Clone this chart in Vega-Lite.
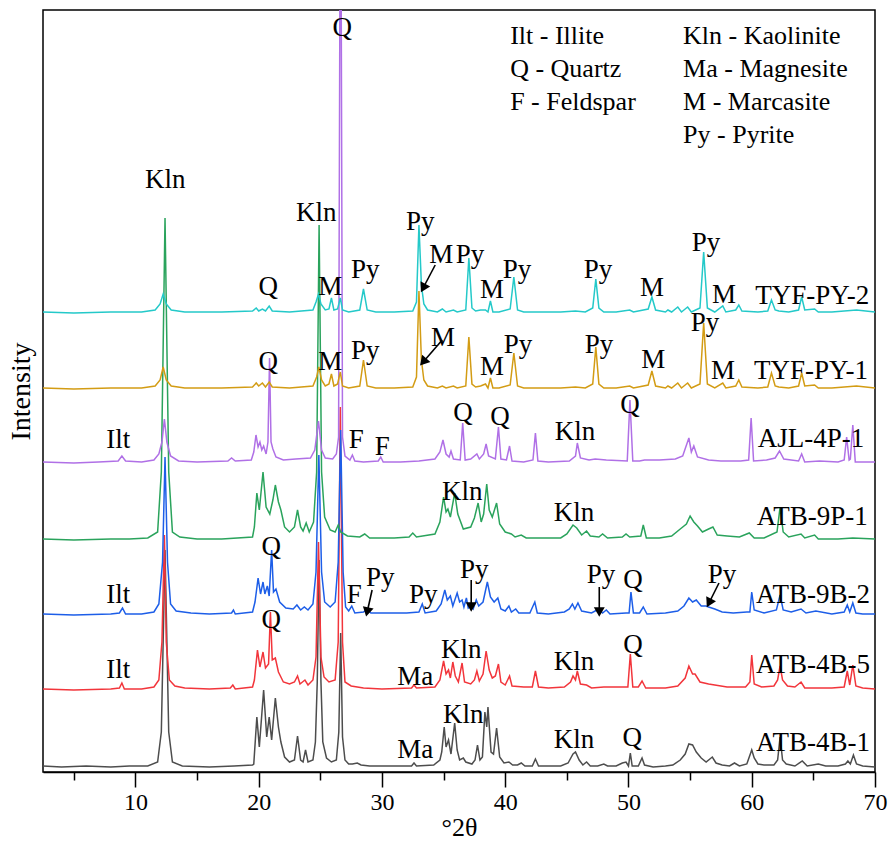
{
"$schema": "https://vega.github.io/schema/vega-lite/v6.json",
"width": 832, "height": 762,
"autosize": {"type": "none"},
"padding": {"left": 43, "top": 10, "right": 13, "bottom": 71},
"config": {"view": {"stroke": "#000", "strokeWidth": 1.5}, "font": "'Liberation Serif', 'Times New Roman', serif"},
"datasets": {
"xrd": [
{"s":"ATB-4B-1","x":2.5,"y":6},{"s":"ATB-4B-1","x":4,"y":5},{"s":"ATB-4B-1","x":6,"y":6},{"s":"ATB-4B-1","x":8,"y":5},{"s":"ATB-4B-1","x":9.5,"y":6},{"s":"ATB-4B-1","x":11,"y":6},{"s":"ATB-4B-1","x":11.8,"y":10},{"s":"ATB-4B-1","x":12.1,"y":40},{"s":"ATB-4B-1","x":12.4,"y":222},{"s":"ATB-4B-1","x":12.7,"y":40},{"s":"ATB-4B-1","x":13.0,"y":10},{"s":"ATB-4B-1","x":13.8,"y":6},{"s":"ATB-4B-1","x":16,"y":5},{"s":"ATB-4B-1","x":18,"y":6},{"s":"ATB-4B-1","x":19.5,"y":7},
{"s":"ATB-4B-1","x":19.6,"y":8},{"s":"ATB-4B-1","x":19.85,"y":55},{"s":"ATB-4B-1","x":20.05,"y":25},{"s":"ATB-4B-1","x":20.4,"y":82},{"s":"ATB-4B-1","x":20.65,"y":35},{"s":"ATB-4B-1","x":20.85,"y":55},{"s":"ATB-4B-1","x":21.05,"y":32},{"s":"ATB-4B-1","x":21.35,"y":74},{"s":"ATB-4B-1","x":21.6,"y":45},{"s":"ATB-4B-1","x":21.8,"y":30},{"s":"ATB-4B-1","x":22.1,"y":15},{"s":"ATB-4B-1","x":22.5,"y":10},{"s":"ATB-4B-1","x":22.9,"y":12},{"s":"ATB-4B-1","x":23.15,"y":36},{"s":"ATB-4B-1","x":23.4,"y":12},{"s":"ATB-4B-1","x":23.6,"y":10},{"s":"ATB-4B-1","x":23.8,"y":22},{"s":"ATB-4B-1","x":24.0,"y":10},{"s":"ATB-4B-1","x":24.4,"y":12},{"s":"ATB-4B-1","x":24.6,"y":30},{"s":"ATB-4B-1","x":24.75,"y":90},{"s":"ATB-4B-1","x":24.9,"y":212},{"s":"ATB-4B-1","x":25.05,"y":90},{"s":"ATB-4B-1","x":25.2,"y":30},{"s":"ATB-4B-1","x":25.5,"y":14},{"s":"ATB-4B-1","x":25.9,"y":10},{"s":"ATB-4B-1","x":26.3,"y":12},{"s":"ATB-4B-1","x":26.5,"y":40},{"s":"ATB-4B-1","x":26.65,"y":139},{"s":"ATB-4B-1","x":26.8,"y":35},{"s":"ATB-4B-1","x":27.0,"y":12},{"s":"ATB-4B-1","x":27.3,"y":8},{"s":"ATB-4B-1","x":27.6,"y":8},{"s":"ATB-4B-1","x":28.0,"y":9},{"s":"ATB-4B-1","x":28.3,"y":7},{"s":"ATB-4B-1","x":29,"y":6},{"s":"ATB-4B-1","x":31,"y":6},{"s":"ATB-4B-1","x":32.4,"y":6},{"s":"ATB-4B-1","x":32.6,"y":9},{"s":"ATB-4B-1","x":32.8,"y":6},{"s":"ATB-4B-1","x":34.2,"y":7},{"s":"ATB-4B-1","x":34.7,"y":12},{"s":"ATB-4B-1","x":34.85,"y":20},{"s":"ATB-4B-1","x":35.05,"y":45},{"s":"ATB-4B-1","x":35.2,"y":25},{"s":"ATB-4B-1","x":35.4,"y":32},{"s":"ATB-4B-1","x":35.6,"y":18},{"s":"ATB-4B-1","x":35.9,"y":49},{"s":"ATB-4B-1","x":36.1,"y":22},{"s":"ATB-4B-1","x":36.3,"y":12},{"s":"ATB-4B-1","x":36.6,"y":14},{"s":"ATB-4B-1","x":36.8,"y":10},{"s":"ATB-4B-1","x":37.3,"y":8},{"s":"ATB-4B-1","x":37.55,"y":12},{"s":"ATB-4B-1","x":37.75,"y":27},{"s":"ATB-4B-1","x":37.95,"y":12},{"s":"ATB-4B-1","x":38.15,"y":15},{"s":"ATB-4B-1","x":38.35,"y":60},{"s":"ATB-4B-1","x":38.5,"y":45},{"s":"ATB-4B-1","x":38.6,"y":65},{"s":"ATB-4B-1","x":38.85,"y":20},{"s":"ATB-4B-1","x":39.05,"y":18},{"s":"ATB-4B-1","x":39.3,"y":44},{"s":"ATB-4B-1","x":39.55,"y":15},{"s":"ATB-4B-1","x":39.9,"y":9},{"s":"ATB-4B-1","x":40.3,"y":10},{"s":"ATB-4B-1","x":40.6,"y":7},{"s":"ATB-4B-1","x":41.0,"y":7},{"s":"ATB-4B-1","x":41.3,"y":9},{"s":"ATB-4B-1","x":41.6,"y":6},{"s":"ATB-4B-1","x":42.2,"y":6},{"s":"ATB-4B-1","x":42.45,"y":13},{"s":"ATB-4B-1","x":42.7,"y":6},{"s":"ATB-4B-1","x":43.5,"y":6},{"s":"ATB-4B-1","x":44.5,"y":6},{"s":"ATB-4B-1","x":45.1,"y":9},{"s":"ATB-4B-1","x":45.5,"y":18},{"s":"ATB-4B-1","x":45.7,"y":20},{"s":"ATB-4B-1","x":46.0,"y":12},{"s":"ATB-4B-1","x":46.3,"y":7},{"s":"ATB-4B-1","x":46.6,"y":10},{"s":"ATB-4B-1","x":46.9,"y":6},{"s":"ATB-4B-1","x":47.5,"y":6},{"s":"ATB-4B-1","x":48.0,"y":8},{"s":"ATB-4B-1","x":48.3,"y":6},{"s":"ATB-4B-1","x":49.0,"y":6},{"s":"ATB-4B-1","x":49.5,"y":9},{"s":"ATB-4B-1","x":49.8,"y":10},{"s":"ATB-4B-1","x":50.0,"y":6},{"s":"ATB-4B-1","x":50.15,"y":19},{"s":"ATB-4B-1","x":50.3,"y":6},{"s":"ATB-4B-1","x":50.8,"y":6},{"s":"ATB-4B-1","x":51.1,"y":14},{"s":"ATB-4B-1","x":51.3,"y":7},{"s":"ATB-4B-1","x":52,"y":5},{"s":"ATB-4B-1","x":53,"y":6},{"s":"ATB-4B-1","x":53.6,"y":7},{"s":"ATB-4B-1","x":54.2,"y":12},{"s":"ATB-4B-1","x":54.6,"y":18},{"s":"ATB-4B-1","x":54.9,"y":28},{"s":"ATB-4B-1","x":55.2,"y":27},{"s":"ATB-4B-1","x":55.5,"y":20},{"s":"ATB-4B-1","x":55.9,"y":14},{"s":"ATB-4B-1","x":56.3,"y":10},{"s":"ATB-4B-1","x":56.8,"y":15},{"s":"ATB-4B-1","x":57.1,"y":9},{"s":"ATB-4B-1","x":57.6,"y":7},{"s":"ATB-4B-1","x":58.2,"y":6},{"s":"ATB-4B-1","x":58.6,"y":9},{"s":"ATB-4B-1","x":59.0,"y":6},{"s":"ATB-4B-1","x":59.6,"y":8},{"s":"ATB-4B-1","x":60.0,"y":22},{"s":"ATB-4B-1","x":60.2,"y":14},{"s":"ATB-4B-1","x":60.5,"y":8},{"s":"ATB-4B-1","x":61,"y":7},{"s":"ATB-4B-1","x":61.8,"y":7},{"s":"ATB-4B-1","x":62.1,"y":12},{"s":"ATB-4B-1","x":62.3,"y":35},{"s":"ATB-4B-1","x":62.5,"y":12},{"s":"ATB-4B-1","x":62.8,"y":8},{"s":"ATB-4B-1","x":63.5,"y":6},{"s":"ATB-4B-1","x":64.1,"y":11},{"s":"ATB-4B-1","x":64.5,"y":6},{"s":"ATB-4B-1","x":65.4,"y":8},{"s":"ATB-4B-1","x":66,"y":6},{"s":"ATB-4B-1","x":67,"y":6},{"s":"ATB-4B-1","x":67.6,"y":8},{"s":"ATB-4B-1","x":67.8,"y":11},{"s":"ATB-4B-1","x":68.0,"y":8},{"s":"ATB-4B-1","x":68.25,"y":17},{"s":"ATB-4B-1","x":68.5,"y":8},{"s":"ATB-4B-1","x":69,"y":6},{"s":"ATB-4B-1","x":70,"y":5},

{"s":"ATB-4B-5","x":2.5,"y":83},{"s":"ATB-4B-5","x":5,"y":82},{"s":"ATB-4B-5","x":8,"y":83},{"s":"ATB-4B-5","x":8.7,"y":84},{"s":"ATB-4B-5","x":8.9,"y":89},{"s":"ATB-4B-5","x":9.1,"y":83},{"s":"ATB-4B-5","x":10.5,"y":83},{"s":"ATB-4B-5","x":11.5,"y":85},{"s":"ATB-4B-5","x":11.9,"y":92},{"s":"ATB-4B-5","x":12.15,"y":130},{"s":"ATB-4B-5","x":12.35,"y":237},{"s":"ATB-4B-5","x":12.5,"y":130},{"s":"ATB-4B-5","x":12.75,"y":92},{"s":"ATB-4B-5","x":13.2,"y":86},{"s":"ATB-4B-5","x":14,"y":84},{"s":"ATB-4B-5","x":16,"y":83},{"s":"ATB-4B-5","x":17.7,"y":84},{"s":"ATB-4B-5","x":17.9,"y":87},{"s":"ATB-4B-5","x":18.1,"y":83},{"s":"ATB-4B-5","x":19.5,"y":85},{"s":"ATB-4B-5","x":19.65,"y":92},{"s":"ATB-4B-5","x":19.9,"y":122},{"s":"ATB-4B-5","x":20.1,"y":105},{"s":"ATB-4B-5","x":20.35,"y":120},{"s":"ATB-4B-5","x":20.55,"y":104},{"s":"ATB-4B-5","x":20.8,"y":108},{"s":"ATB-4B-5","x":20.95,"y":160},{"s":"ATB-4B-5","x":21.1,"y":112},{"s":"ATB-4B-5","x":21.35,"y":114},{"s":"ATB-4B-5","x":21.6,"y":100},{"s":"ATB-4B-5","x":22.0,"y":90},{"s":"ATB-4B-5","x":22.5,"y":88},{"s":"ATB-4B-5","x":22.9,"y":90},{"s":"ATB-4B-5","x":23.15,"y":96},{"s":"ATB-4B-5","x":23.35,"y":88},{"s":"ATB-4B-5","x":23.75,"y":92},{"s":"ATB-4B-5","x":24.0,"y":87},{"s":"ATB-4B-5","x":24.4,"y":92},{"s":"ATB-4B-5","x":24.65,"y":115},{"s":"ATB-4B-5","x":24.85,"y":230},{"s":"ATB-4B-5","x":25.05,"y":115},{"s":"ATB-4B-5","x":25.3,"y":95},{"s":"ATB-4B-5","x":25.7,"y":90},{"s":"ATB-4B-5","x":26.2,"y":92},{"s":"ATB-4B-5","x":26.45,"y":130},{"s":"ATB-4B-5","x":26.62,"y":365},{"s":"ATB-4B-5","x":26.8,"y":130},{"s":"ATB-4B-5","x":27.0,"y":90},{"s":"ATB-4B-5","x":27.5,"y":86},{"s":"ATB-4B-5","x":28.5,"y":84},{"s":"ATB-4B-5","x":30,"y":83},{"s":"ATB-4B-5","x":32.4,"y":84},{"s":"ATB-4B-5","x":32.6,"y":87},{"s":"ATB-4B-5","x":32.8,"y":84},{"s":"ATB-4B-5","x":34.3,"y":85},{"s":"ATB-4B-5","x":34.7,"y":92},{"s":"ATB-4B-5","x":35.0,"y":111},{"s":"ATB-4B-5","x":35.2,"y":98},{"s":"ATB-4B-5","x":35.4,"y":102},{"s":"ATB-4B-5","x":35.55,"y":94},{"s":"ATB-4B-5","x":35.75,"y":110},{"s":"ATB-4B-5","x":35.95,"y":96},{"s":"ATB-4B-5","x":36.2,"y":90},{"s":"ATB-4B-5","x":36.5,"y":109},{"s":"ATB-4B-5","x":36.7,"y":90},{"s":"ATB-4B-5","x":37.2,"y":88},{"s":"ATB-4B-5","x":37.5,"y":92},{"s":"ATB-4B-5","x":37.7,"y":101},{"s":"ATB-4B-5","x":37.9,"y":91},{"s":"ATB-4B-5","x":38.2,"y":98},{"s":"ATB-4B-5","x":38.45,"y":121},{"s":"ATB-4B-5","x":38.7,"y":102},{"s":"ATB-4B-5","x":38.95,"y":94},{"s":"ATB-4B-5","x":39.2,"y":96},{"s":"ATB-4B-5","x":39.45,"y":108},{"s":"ATB-4B-5","x":39.65,"y":90},{"s":"ATB-4B-5","x":40.0,"y":87},{"s":"ATB-4B-5","x":40.35,"y":96},{"s":"ATB-4B-5","x":40.55,"y":86},{"s":"ATB-4B-5","x":41.5,"y":85},{"s":"ATB-4B-5","x":42.2,"y":85},{"s":"ATB-4B-5","x":42.45,"y":101},{"s":"ATB-4B-5","x":42.7,"y":85},{"s":"ATB-4B-5","x":43.5,"y":84},{"s":"ATB-4B-5","x":44.8,"y":85},{"s":"ATB-4B-5","x":45.3,"y":90},{"s":"ATB-4B-5","x":45.5,"y":96},{"s":"ATB-4B-5","x":45.7,"y":92},{"s":"ATB-4B-5","x":45.85,"y":101},{"s":"ATB-4B-5","x":46.1,"y":88},{"s":"ATB-4B-5","x":46.6,"y":87},{"s":"ATB-4B-5","x":47,"y":84},{"s":"ATB-4B-5","x":48,"y":85},{"s":"ATB-4B-5","x":49.5,"y":85},{"s":"ATB-4B-5","x":49.95,"y":85},{"s":"ATB-4B-5","x":50.15,"y":118},{"s":"ATB-4B-5","x":50.35,"y":85},{"s":"ATB-4B-5","x":50.8,"y":85},{"s":"ATB-4B-5","x":51.1,"y":91},{"s":"ATB-4B-5","x":51.4,"y":84},{"s":"ATB-4B-5","x":53,"y":84},{"s":"ATB-4B-5","x":54.0,"y":86},{"s":"ATB-4B-5","x":54.6,"y":94},{"s":"ATB-4B-5","x":54.9,"y":106},{"s":"ATB-4B-5","x":55.2,"y":98},{"s":"ATB-4B-5","x":55.4,"y":98},{"s":"ATB-4B-5","x":55.8,"y":90},{"s":"ATB-4B-5","x":56.5,"y":88},{"s":"ATB-4B-5","x":57,"y":87},{"s":"ATB-4B-5","x":58,"y":85},{"s":"ATB-4B-5","x":59.5,"y":85},{"s":"ATB-4B-5","x":59.85,"y":90},{"s":"ATB-4B-5","x":60.0,"y":117},{"s":"ATB-4B-5","x":60.2,"y":88},{"s":"ATB-4B-5","x":60.8,"y":85},{"s":"ATB-4B-5","x":61.8,"y":86},{"s":"ATB-4B-5","x":62.1,"y":92},{"s":"ATB-4B-5","x":62.3,"y":106},{"s":"ATB-4B-5","x":62.5,"y":92},{"s":"ATB-4B-5","x":62.9,"y":86},{"s":"ATB-4B-5","x":63.5,"y":85},{"s":"ATB-4B-5","x":64.0,"y":90},{"s":"ATB-4B-5","x":64.3,"y":84},{"s":"ATB-4B-5","x":65.5,"y":84},{"s":"ATB-4B-5","x":66.5,"y":84},{"s":"ATB-4B-5","x":67.5,"y":85},{"s":"ATB-4B-5","x":67.75,"y":101},{"s":"ATB-4B-5","x":67.95,"y":87},{"s":"ATB-4B-5","x":68.2,"y":107},{"s":"ATB-4B-5","x":68.45,"y":86},{"s":"ATB-4B-5","x":69,"y":84},{"s":"ATB-4B-5","x":70,"y":83},

{"s":"ATB-9B-2","x":2.5,"y":158},{"s":"ATB-9B-2","x":5,"y":157},{"s":"ATB-9B-2","x":8,"y":158},{"s":"ATB-9B-2","x":8.7,"y":159},{"s":"ATB-9B-2","x":8.95,"y":164},{"s":"ATB-9B-2","x":9.2,"y":158},{"s":"ATB-9B-2","x":10.5,"y":158},{"s":"ATB-9B-2","x":11.5,"y":160},{"s":"ATB-9B-2","x":11.9,"y":168},{"s":"ATB-9B-2","x":12.2,"y":210},{"s":"ATB-9B-2","x":12.4,"y":315},{"s":"ATB-9B-2","x":12.6,"y":210},{"s":"ATB-9B-2","x":12.85,"y":168},{"s":"ATB-9B-2","x":13.3,"y":161},{"s":"ATB-9B-2","x":14.5,"y":159},{"s":"ATB-9B-2","x":16,"y":158},{"s":"ATB-9B-2","x":17.8,"y":159},{"s":"ATB-9B-2","x":17.95,"y":162},{"s":"ATB-9B-2","x":18.1,"y":158},{"s":"ATB-9B-2","x":19.5,"y":160},{"s":"ATB-9B-2","x":19.7,"y":170},{"s":"ATB-9B-2","x":19.95,"y":194},{"s":"ATB-9B-2","x":20.15,"y":178},{"s":"ATB-9B-2","x":20.35,"y":190},{"s":"ATB-9B-2","x":20.5,"y":178},{"s":"ATB-9B-2","x":20.7,"y":186},{"s":"ATB-9B-2","x":20.85,"y":176},{"s":"ATB-9B-2","x":21.05,"y":222},{"s":"ATB-9B-2","x":21.2,"y":180},{"s":"ATB-9B-2","x":21.4,"y":183},{"s":"ATB-9B-2","x":21.7,"y":170},{"s":"ATB-9B-2","x":22.2,"y":164},{"s":"ATB-9B-2","x":22.8,"y":163},{"s":"ATB-9B-2","x":23.1,"y":167},{"s":"ATB-9B-2","x":23.4,"y":162},{"s":"ATB-9B-2","x":23.7,"y":165},{"s":"ATB-9B-2","x":24.0,"y":162},{"s":"ATB-9B-2","x":24.4,"y":168},{"s":"ATB-9B-2","x":24.65,"y":200},{"s":"ATB-9B-2","x":24.88,"y":317},{"s":"ATB-9B-2","x":25.1,"y":200},{"s":"ATB-9B-2","x":25.35,"y":170},{"s":"ATB-9B-2","x":25.8,"y":165},{"s":"ATB-9B-2","x":26.2,"y":170},{"s":"ATB-9B-2","x":26.45,"y":210},{"s":"ATB-9B-2","x":26.65,"y":342},{"s":"ATB-9B-2","x":26.85,"y":200},{"s":"ATB-9B-2","x":27.05,"y":165},{"s":"ATB-9B-2","x":27.3,"y":161},{"s":"ATB-9B-2","x":27.55,"y":166},{"s":"ATB-9B-2","x":27.8,"y":159},{"s":"ATB-9B-2","x":28.5,"y":160},{"s":"ATB-9B-2","x":28.8,"y":163},{"s":"ATB-9B-2","x":29.1,"y":159},{"s":"ATB-9B-2","x":30.5,"y":159},{"s":"ATB-9B-2","x":32,"y":159},{"s":"ATB-9B-2","x":33.0,"y":160},{"s":"ATB-9B-2","x":33.27,"y":168},{"s":"ATB-9B-2","x":33.5,"y":159},{"s":"ATB-9B-2","x":34.4,"y":161},{"s":"ATB-9B-2","x":34.8,"y":168},{"s":"ATB-9B-2","x":35.1,"y":182},{"s":"ATB-9B-2","x":35.3,"y":172},{"s":"ATB-9B-2","x":35.55,"y":176},{"s":"ATB-9B-2","x":35.75,"y":166},{"s":"ATB-9B-2","x":36.1,"y":179},{"s":"ATB-9B-2","x":36.3,"y":170},{"s":"ATB-9B-2","x":36.5,"y":172},{"s":"ATB-9B-2","x":36.65,"y":165},{"s":"ATB-9B-2","x":36.85,"y":174},{"s":"ATB-9B-2","x":37.0,"y":164},{"s":"ATB-9B-2","x":37.2,"y":166},{"s":"ATB-9B-2","x":37.4,"y":163},{"s":"ATB-9B-2","x":37.65,"y":172},{"s":"ATB-9B-2","x":37.85,"y":166},{"s":"ATB-9B-2","x":38.2,"y":170},{"s":"ATB-9B-2","x":38.55,"y":190},{"s":"ATB-9B-2","x":38.8,"y":175},{"s":"ATB-9B-2","x":39.1,"y":170},{"s":"ATB-9B-2","x":39.4,"y":174},{"s":"ATB-9B-2","x":39.65,"y":163},{"s":"ATB-9B-2","x":40.0,"y":161},{"s":"ATB-9B-2","x":40.3,"y":166},{"s":"ATB-9B-2","x":40.5,"y":160},{"s":"ATB-9B-2","x":40.85,"y":163},{"s":"ATB-9B-2","x":41.1,"y":159},{"s":"ATB-9B-2","x":42.0,"y":159},{"s":"ATB-9B-2","x":42.4,"y":170},{"s":"ATB-9B-2","x":42.6,"y":159},{"s":"ATB-9B-2","x":43.5,"y":158},{"s":"ATB-9B-2","x":44.8,"y":160},{"s":"ATB-9B-2","x":45.2,"y":163},{"s":"ATB-9B-2","x":45.45,"y":168},{"s":"ATB-9B-2","x":45.65,"y":163},{"s":"ATB-9B-2","x":45.9,"y":169},{"s":"ATB-9B-2","x":46.2,"y":161},{"s":"ATB-9B-2","x":47.0,"y":159},{"s":"ATB-9B-2","x":47.6,"y":163},{"s":"ATB-9B-2","x":47.9,"y":159},{"s":"ATB-9B-2","x":48.2,"y":162},{"s":"ATB-9B-2","x":48.5,"y":158},{"s":"ATB-9B-2","x":49.8,"y":159},{"s":"ATB-9B-2","x":50.05,"y":159},{"s":"ATB-9B-2","x":50.2,"y":180},{"s":"ATB-9B-2","x":50.4,"y":159},{"s":"ATB-9B-2","x":50.9,"y":159},{"s":"ATB-9B-2","x":51.2,"y":165},{"s":"ATB-9B-2","x":51.5,"y":158},{"s":"ATB-9B-2","x":53,"y":159},{"s":"ATB-9B-2","x":54.0,"y":161},{"s":"ATB-9B-2","x":54.5,"y":166},{"s":"ATB-9B-2","x":54.9,"y":174},{"s":"ATB-9B-2","x":55.2,"y":170},{"s":"ATB-9B-2","x":55.5,"y":172},{"s":"ATB-9B-2","x":55.9,"y":166},{"s":"ATB-9B-2","x":56.3,"y":166},{"s":"ATB-9B-2","x":56.5,"y":165},{"s":"ATB-9B-2","x":57.0,"y":163},{"s":"ATB-9B-2","x":57.6,"y":160},{"s":"ATB-9B-2","x":58.5,"y":159},{"s":"ATB-9B-2","x":59.6,"y":160},{"s":"ATB-9B-2","x":59.85,"y":160},{"s":"ATB-9B-2","x":60.0,"y":180},{"s":"ATB-9B-2","x":60.2,"y":162},{"s":"ATB-9B-2","x":61,"y":159},{"s":"ATB-9B-2","x":62.0,"y":162},{"s":"ATB-9B-2","x":62.3,"y":177},{"s":"ATB-9B-2","x":62.55,"y":162},{"s":"ATB-9B-2","x":63.2,"y":160},{"s":"ATB-9B-2","x":64.0,"y":163},{"s":"ATB-9B-2","x":64.4,"y":159},{"s":"ATB-9B-2","x":65.2,"y":161},{"s":"ATB-9B-2","x":66.5,"y":158},{"s":"ATB-9B-2","x":67.5,"y":160},{"s":"ATB-9B-2","x":67.75,"y":167},{"s":"ATB-9B-2","x":67.95,"y":160},{"s":"ATB-9B-2","x":68.2,"y":169},{"s":"ATB-9B-2","x":68.45,"y":159},{"s":"ATB-9B-2","x":69,"y":158},{"s":"ATB-9B-2","x":70,"y":158},

{"s":"ATB-9P-1","x":2.5,"y":233},{"s":"ATB-9P-1","x":5,"y":232},{"s":"ATB-9P-1","x":8,"y":233},{"s":"ATB-9P-1","x":9.5,"y":233},{"s":"ATB-9P-1","x":11,"y":234},{"s":"ATB-9P-1","x":11.8,"y":240},{"s":"ATB-9P-1","x":12.1,"y":300},{"s":"ATB-9P-1","x":12.4,"y":554},{"s":"ATB-9P-1","x":12.7,"y":300},{"s":"ATB-9P-1","x":13.0,"y":240},{"s":"ATB-9P-1","x":13.6,"y":235},{"s":"ATB-9P-1","x":15,"y":233},{"s":"ATB-9P-1","x":17,"y":233},{"s":"ATB-9P-1","x":19.5,"y":235},{"s":"ATB-9P-1","x":19.65,"y":245},{"s":"ATB-9P-1","x":19.85,"y":279},{"s":"ATB-9P-1","x":20.05,"y":262},{"s":"ATB-9P-1","x":20.35,"y":300},{"s":"ATB-9P-1","x":20.6,"y":265},{"s":"ATB-9P-1","x":20.9,"y":258},{"s":"ATB-9P-1","x":21.15,"y":272},{"s":"ATB-9P-1","x":21.35,"y":287},{"s":"ATB-9P-1","x":21.6,"y":270},{"s":"ATB-9P-1","x":21.8,"y":262},{"s":"ATB-9P-1","x":22.1,"y":245},{"s":"ATB-9P-1","x":22.5,"y":240},{"s":"ATB-9P-1","x":22.9,"y":245},{"s":"ATB-9P-1","x":23.15,"y":262},{"s":"ATB-9P-1","x":23.4,"y":245},{"s":"ATB-9P-1","x":23.6,"y":241},{"s":"ATB-9P-1","x":23.85,"y":249},{"s":"ATB-9P-1","x":24.1,"y":240},{"s":"ATB-9P-1","x":24.45,"y":250},{"s":"ATB-9P-1","x":24.7,"y":300},{"s":"ATB-9P-1","x":24.9,"y":547},{"s":"ATB-9P-1","x":25.1,"y":300},{"s":"ATB-9P-1","x":25.35,"y":255},{"s":"ATB-9P-1","x":25.8,"y":242},{"s":"ATB-9P-1","x":26.2,"y":240},{"s":"ATB-9P-1","x":26.45,"y":247},{"s":"ATB-9P-1","x":26.65,"y":240},{"s":"ATB-9P-1","x":27.2,"y":236},{"s":"ATB-9P-1","x":28.2,"y":235},{"s":"ATB-9P-1","x":28.6,"y":238},{"s":"ATB-9P-1","x":29,"y":234},{"s":"ATB-9P-1","x":31,"y":234},{"s":"ATB-9P-1","x":32.2,"y":235},{"s":"ATB-9P-1","x":32.5,"y":239},{"s":"ATB-9P-1","x":32.8,"y":235},{"s":"ATB-9P-1","x":34.3,"y":238},{"s":"ATB-9P-1","x":34.7,"y":250},{"s":"ATB-9P-1","x":35.0,"y":275},{"s":"ATB-9P-1","x":35.2,"y":260},{"s":"ATB-9P-1","x":35.35,"y":263},{"s":"ATB-9P-1","x":35.55,"y":255},{"s":"ATB-9P-1","x":35.9,"y":279},{"s":"ATB-9P-1","x":36.15,"y":258},{"s":"ATB-9P-1","x":36.6,"y":243},{"s":"ATB-9P-1","x":37.2,"y":245},{"s":"ATB-9P-1","x":37.5,"y":254},{"s":"ATB-9P-1","x":37.8,"y":269},{"s":"ATB-9P-1","x":38.05,"y":250},{"s":"ATB-9P-1","x":38.25,"y":258},{"s":"ATB-9P-1","x":38.5,"y":288},{"s":"ATB-9P-1","x":38.7,"y":262},{"s":"ATB-9P-1","x":38.95,"y":255},{"s":"ATB-9P-1","x":39.3,"y":269},{"s":"ATB-9P-1","x":39.55,"y":248},{"s":"ATB-9P-1","x":40.0,"y":240},{"s":"ATB-9P-1","x":40.5,"y":238},{"s":"ATB-9P-1","x":40.8,"y":235},{"s":"ATB-9P-1","x":41.3,"y":237},{"s":"ATB-9P-1","x":41.7,"y":234},{"s":"ATB-9P-1","x":42.5,"y":234},{"s":"ATB-9P-1","x":44.5,"y":234},{"s":"ATB-9P-1","x":45.0,"y":238},{"s":"ATB-9P-1","x":45.5,"y":247},{"s":"ATB-9P-1","x":45.8,"y":244},{"s":"ATB-9P-1","x":46.2,"y":237},{"s":"ATB-9P-1","x":46.6,"y":241},{"s":"ATB-9P-1","x":46.9,"y":236},{"s":"ATB-9P-1","x":47.6,"y":235},{"s":"ATB-9P-1","x":47.9,"y":238},{"s":"ATB-9P-1","x":48.3,"y":234},{"s":"ATB-9P-1","x":49.5,"y":235},{"s":"ATB-9P-1","x":49.8,"y":238},{"s":"ATB-9P-1","x":50.1,"y":235},{"s":"ATB-9P-1","x":51.0,"y":236},{"s":"ATB-9P-1","x":51.2,"y":247},{"s":"ATB-9P-1","x":51.45,"y":234},{"s":"ATB-9P-1","x":52.5,"y":234},{"s":"ATB-9P-1","x":53.5,"y":236},{"s":"ATB-9P-1","x":54.2,"y":243},{"s":"ATB-9P-1","x":54.7,"y":248},{"s":"ATB-9P-1","x":55.0,"y":256},{"s":"ATB-9P-1","x":55.3,"y":250},{"s":"ATB-9P-1","x":55.6,"y":246},{"s":"ATB-9P-1","x":56.0,"y":240},{"s":"ATB-9P-1","x":56.5,"y":243},{"s":"ATB-9P-1","x":56.85,"y":245},{"s":"ATB-9P-1","x":57.2,"y":237},{"s":"ATB-9P-1","x":58,"y":236},{"s":"ATB-9P-1","x":59,"y":235},{"s":"ATB-9P-1","x":59.8,"y":239},{"s":"ATB-9P-1","x":60.2,"y":234},{"s":"ATB-9P-1","x":61,"y":234},{"s":"ATB-9P-1","x":62.05,"y":240},{"s":"ATB-9P-1","x":62.3,"y":265},{"s":"ATB-9P-1","x":62.55,"y":240},{"s":"ATB-9P-1","x":63,"y":235},{"s":"ATB-9P-1","x":64.0,"y":238},{"s":"ATB-9P-1","x":64.3,"y":234},{"s":"ATB-9P-1","x":65.1,"y":237},{"s":"ATB-9P-1","x":65.4,"y":233},{"s":"ATB-9P-1","x":67,"y":233},{"s":"ATB-9P-1","x":68.2,"y":234},{"s":"ATB-9P-1","x":70,"y":233},

{"s":"AJL-4P-1","x":2.5,"y":310},{"s":"AJL-4P-1","x":5,"y":309},{"s":"AJL-4P-1","x":7,"y":310},{"s":"AJL-4P-1","x":8.6,"y":311},{"s":"AJL-4P-1","x":8.9,"y":316},{"s":"AJL-4P-1","x":9.2,"y":311},{"s":"AJL-4P-1","x":10.5,"y":310},{"s":"AJL-4P-1","x":11.5,"y":312},{"s":"AJL-4P-1","x":11.9,"y":318},{"s":"AJL-4P-1","x":12.15,"y":330},{"s":"AJL-4P-1","x":12.35,"y":353},{"s":"AJL-4P-1","x":12.55,"y":330},{"s":"AJL-4P-1","x":12.85,"y":316},{"s":"AJL-4P-1","x":13.5,"y":311},{"s":"AJL-4P-1","x":15,"y":310},{"s":"AJL-4P-1","x":17.5,"y":311},{"s":"AJL-4P-1","x":17.8,"y":314},{"s":"AJL-4P-1","x":18.1,"y":311},{"s":"AJL-4P-1","x":19.4,"y":312},{"s":"AJL-4P-1","x":19.6,"y":320},{"s":"AJL-4P-1","x":19.78,"y":337},{"s":"AJL-4P-1","x":19.95,"y":325},{"s":"AJL-4P-1","x":20.1,"y":330},{"s":"AJL-4P-1","x":20.25,"y":322},{"s":"AJL-4P-1","x":20.4,"y":326},{"s":"AJL-4P-1","x":20.6,"y":318},{"s":"AJL-4P-1","x":20.75,"y":330},{"s":"AJL-4P-1","x":20.88,"y":414},{"s":"AJL-4P-1","x":21.0,"y":330},{"s":"AJL-4P-1","x":21.15,"y":323},{"s":"AJL-4P-1","x":21.4,"y":315},{"s":"AJL-4P-1","x":22,"y":312},{"s":"AJL-4P-1","x":23,"y":313},{"s":"AJL-4P-1","x":24.2,"y":314},{"s":"AJL-4P-1","x":24.55,"y":322},{"s":"AJL-4P-1","x":24.85,"y":351},{"s":"AJL-4P-1","x":25.1,"y":322},{"s":"AJL-4P-1","x":25.4,"y":314},{"s":"AJL-4P-1","x":26.0,"y":313},{"s":"AJL-4P-1","x":26.3,"y":318},{"s":"AJL-4P-1","x":26.48,"y":335},{"s":"AJL-4P-1","x":26.64,"y":1000},{"s":"AJL-4P-1","x":26.8,"y":335},{"s":"AJL-4P-1","x":27.0,"y":316},{"s":"AJL-4P-1","x":27.4,"y":312},{"s":"AJL-4P-1","x":27.6,"y":317},{"s":"AJL-4P-1","x":27.8,"y":311},{"s":"AJL-4P-1","x":28.5,"y":310},{"s":"AJL-4P-1","x":29.7,"y":311},{"s":"AJL-4P-1","x":29.9,"y":315},{"s":"AJL-4P-1","x":30.1,"y":310},{"s":"AJL-4P-1","x":31.5,"y":310},{"s":"AJL-4P-1","x":33,"y":311},{"s":"AJL-4P-1","x":34.3,"y":313},{"s":"AJL-4P-1","x":34.7,"y":320},{"s":"AJL-4P-1","x":34.95,"y":332},{"s":"AJL-4P-1","x":35.2,"y":318},{"s":"AJL-4P-1","x":35.45,"y":315},{"s":"AJL-4P-1","x":35.6,"y":321},{"s":"AJL-4P-1","x":35.8,"y":313},{"s":"AJL-4P-1","x":36.35,"y":312},{"s":"AJL-4P-1","x":36.55,"y":349},{"s":"AJL-4P-1","x":36.75,"y":312},{"s":"AJL-4P-1","x":37.2,"y":313},{"s":"AJL-4P-1","x":37.7,"y":318},{"s":"AJL-4P-1","x":37.9,"y":313},{"s":"AJL-4P-1","x":38.25,"y":318},{"s":"AJL-4P-1","x":38.45,"y":328},{"s":"AJL-4P-1","x":38.65,"y":316},{"s":"AJL-4P-1","x":39.2,"y":313},{"s":"AJL-4P-1","x":39.45,"y":345},{"s":"AJL-4P-1","x":39.65,"y":313},{"s":"AJL-4P-1","x":40.1,"y":312},{"s":"AJL-4P-1","x":40.35,"y":326},{"s":"AJL-4P-1","x":40.55,"y":311},{"s":"AJL-4P-1","x":41.5,"y":310},{"s":"AJL-4P-1","x":42.25,"y":312},{"s":"AJL-4P-1","x":42.45,"y":339},{"s":"AJL-4P-1","x":42.65,"y":311},{"s":"AJL-4P-1","x":43.5,"y":310},{"s":"AJL-4P-1","x":45.2,"y":311},{"s":"AJL-4P-1","x":45.7,"y":316},{"s":"AJL-4P-1","x":45.85,"y":329},{"s":"AJL-4P-1","x":46.1,"y":314},{"s":"AJL-4P-1","x":46.8,"y":312},{"s":"AJL-4P-1","x":47.3,"y":313},{"s":"AJL-4P-1","x":48.2,"y":312},{"s":"AJL-4P-1","x":49.9,"y":311},{"s":"AJL-4P-1","x":50.12,"y":372},{"s":"AJL-4P-1","x":50.35,"y":311},{"s":"AJL-4P-1","x":50.9,"y":311},{"s":"AJL-4P-1","x":51.3,"y":312},{"s":"AJL-4P-1","x":52.5,"y":312},{"s":"AJL-4P-1","x":53.8,"y":313},{"s":"AJL-4P-1","x":54.4,"y":316},{"s":"AJL-4P-1","x":54.9,"y":334},{"s":"AJL-4P-1","x":55.1,"y":320},{"s":"AJL-4P-1","x":55.3,"y":326},{"s":"AJL-4P-1","x":55.6,"y":315},{"s":"AJL-4P-1","x":56.5,"y":312},{"s":"AJL-4P-1","x":57.5,"y":311},{"s":"AJL-4P-1","x":59.1,"y":311},{"s":"AJL-4P-1","x":59.75,"y":312},{"s":"AJL-4P-1","x":59.95,"y":354},{"s":"AJL-4P-1","x":60.15,"y":311},{"s":"AJL-4P-1","x":61.2,"y":312},{"s":"AJL-4P-1","x":61.9,"y":314},{"s":"AJL-4P-1","x":62.25,"y":321},{"s":"AJL-4P-1","x":62.6,"y":313},{"s":"AJL-4P-1","x":63.8,"y":311},{"s":"AJL-4P-1","x":64.05,"y":318},{"s":"AJL-4P-1","x":64.3,"y":310},{"s":"AJL-4P-1","x":65.5,"y":311},{"s":"AJL-4P-1","x":67.0,"y":310},{"s":"AJL-4P-1","x":67.5,"y":312},{"s":"AJL-4P-1","x":67.7,"y":335},{"s":"AJL-4P-1","x":67.9,"y":312},{"s":"AJL-4P-1","x":68.0,"y":313},{"s":"AJL-4P-1","x":68.2,"y":347},{"s":"AJL-4P-1","x":68.4,"y":310},{"s":"AJL-4P-1","x":69,"y":310},{"s":"AJL-4P-1","x":70,"y":310},

{"s":"TYF-PY-1","x":2.5,"y":384},{"s":"TYF-PY-1","x":5,"y":383},{"s":"TYF-PY-1","x":8,"y":384},{"s":"TYF-PY-1","x":10.5,"y":384},{"s":"TYF-PY-1","x":11.6,"y":386},{"s":"TYF-PY-1","x":12.0,"y":392},{"s":"TYF-PY-1","x":12.25,"y":405},{"s":"TYF-PY-1","x":12.5,"y":392},{"s":"TYF-PY-1","x":12.9,"y":386},{"s":"TYF-PY-1","x":14,"y":384},{"s":"TYF-PY-1","x":17,"y":384},{"s":"TYF-PY-1","x":19.5,"y":385},{"s":"TYF-PY-1","x":19.8,"y":389},{"s":"TYF-PY-1","x":20.0,"y":386},{"s":"TYF-PY-1","x":20.3,"y":389},{"s":"TYF-PY-1","x":20.55,"y":385},{"s":"TYF-PY-1","x":20.85,"y":390},{"s":"TYF-PY-1","x":21.1,"y":385},{"s":"TYF-PY-1","x":22.5,"y":384},{"s":"TYF-PY-1","x":24.4,"y":386},{"s":"TYF-PY-1","x":24.7,"y":395},{"s":"TYF-PY-1","x":24.88,"y":405},{"s":"TYF-PY-1","x":25.1,"y":392},{"s":"TYF-PY-1","x":25.4,"y":386},{"s":"TYF-PY-1","x":25.7,"y":388},{"s":"TYF-PY-1","x":25.9,"y":398},{"s":"TYF-PY-1","x":26.1,"y":386},{"s":"TYF-PY-1","x":26.4,"y":388},{"s":"TYF-PY-1","x":26.62,"y":400},{"s":"TYF-PY-1","x":26.8,"y":386},{"s":"TYF-PY-1","x":27.3,"y":384},{"s":"TYF-PY-1","x":28.2,"y":386},{"s":"TYF-PY-1","x":28.5,"y":412},{"s":"TYF-PY-1","x":28.8,"y":386},{"s":"TYF-PY-1","x":29.5,"y":384},{"s":"TYF-PY-1","x":31,"y":384},{"s":"TYF-PY-1","x":32.5,"y":385},{"s":"TYF-PY-1","x":32.8,"y":395},{"s":"TYF-PY-1","x":33.0,"y":481},{"s":"TYF-PY-1","x":33.2,"y":412},{"s":"TYF-PY-1","x":33.4,"y":392},{"s":"TYF-PY-1","x":33.7,"y":386},{"s":"TYF-PY-1","x":34.5,"y":384},{"s":"TYF-PY-1","x":34.9,"y":386},{"s":"TYF-PY-1","x":35.2,"y":384},{"s":"TYF-PY-1","x":35.8,"y":386},{"s":"TYF-PY-1","x":36.1,"y":384},{"s":"TYF-PY-1","x":36.8,"y":386},{"s":"TYF-PY-1","x":37.05,"y":435},{"s":"TYF-PY-1","x":37.3,"y":388},{"s":"TYF-PY-1","x":37.6,"y":385},{"s":"TYF-PY-1","x":38.0,"y":386},{"s":"TYF-PY-1","x":38.4,"y":388},{"s":"TYF-PY-1","x":38.6,"y":384},{"s":"TYF-PY-1","x":38.8,"y":394},{"s":"TYF-PY-1","x":39.0,"y":384},{"s":"TYF-PY-1","x":39.5,"y":384},{"s":"TYF-PY-1","x":40.4,"y":387},{"s":"TYF-PY-1","x":40.7,"y":419},{"s":"TYF-PY-1","x":41.0,"y":386},{"s":"TYF-PY-1","x":41.5,"y":384},{"s":"TYF-PY-1","x":43,"y":384},{"s":"TYF-PY-1","x":44.5,"y":384},{"s":"TYF-PY-1","x":45.7,"y":385},{"s":"TYF-PY-1","x":46.5,"y":384},{"s":"TYF-PY-1","x":47.1,"y":388},{"s":"TYF-PY-1","x":47.35,"y":425},{"s":"TYF-PY-1","x":47.6,"y":388},{"s":"TYF-PY-1","x":48,"y":384},{"s":"TYF-PY-1","x":49,"y":384},{"s":"TYF-PY-1","x":50.1,"y":386},{"s":"TYF-PY-1","x":50.4,"y":384},{"s":"TYF-PY-1","x":51.6,"y":387},{"s":"TYF-PY-1","x":51.9,"y":401},{"s":"TYF-PY-1","x":52.2,"y":386},{"s":"TYF-PY-1","x":53,"y":384},{"s":"TYF-PY-1","x":53.2,"y":386},{"s":"TYF-PY-1","x":53.5,"y":384},{"s":"TYF-PY-1","x":54.0,"y":389},{"s":"TYF-PY-1","x":54.3,"y":384},{"s":"TYF-PY-1","x":54.8,"y":389},{"s":"TYF-PY-1","x":55.1,"y":384},{"s":"TYF-PY-1","x":55.8,"y":388},{"s":"TYF-PY-1","x":56.1,"y":449},{"s":"TYF-PY-1","x":56.4,"y":388},{"s":"TYF-PY-1","x":57.0,"y":384},{"s":"TYF-PY-1","x":57.65,"y":389},{"s":"TYF-PY-1","x":57.9,"y":384},{"s":"TYF-PY-1","x":58.7,"y":386},{"s":"TYF-PY-1","x":58.95,"y":392},{"s":"TYF-PY-1","x":59.2,"y":385},{"s":"TYF-PY-1","x":60.5,"y":384},{"s":"TYF-PY-1","x":61.3,"y":385},{"s":"TYF-PY-1","x":61.6,"y":399},{"s":"TYF-PY-1","x":61.9,"y":386},{"s":"TYF-PY-1","x":62.2,"y":385},{"s":"TYF-PY-1","x":63.0,"y":384},{"s":"TYF-PY-1","x":63.8,"y":386},{"s":"TYF-PY-1","x":64.05,"y":399},{"s":"TYF-PY-1","x":64.3,"y":386},{"s":"TYF-PY-1","x":65.1,"y":387},{"s":"TYF-PY-1","x":65.4,"y":384},{"s":"TYF-PY-1","x":66.5,"y":384},{"s":"TYF-PY-1","x":68.5,"y":386},{"s":"TYF-PY-1","x":70,"y":384},

{"s":"TYF-PY-2","x":2.5,"y":460},{"s":"TYF-PY-2","x":5,"y":459},{"s":"TYF-PY-2","x":8,"y":460},{"s":"TYF-PY-2","x":10.5,"y":460},{"s":"TYF-PY-2","x":11.6,"y":462},{"s":"TYF-PY-2","x":12.0,"y":468},{"s":"TYF-PY-2","x":12.25,"y":478},{"s":"TYF-PY-2","x":12.5,"y":468},{"s":"TYF-PY-2","x":12.9,"y":462},{"s":"TYF-PY-2","x":14,"y":460},{"s":"TYF-PY-2","x":17,"y":460},{"s":"TYF-PY-2","x":19.5,"y":461},{"s":"TYF-PY-2","x":19.8,"y":464},{"s":"TYF-PY-2","x":20.0,"y":461},{"s":"TYF-PY-2","x":20.3,"y":463},{"s":"TYF-PY-2","x":20.55,"y":461},{"s":"TYF-PY-2","x":20.85,"y":466},{"s":"TYF-PY-2","x":21.1,"y":461},{"s":"TYF-PY-2","x":22.5,"y":460},{"s":"TYF-PY-2","x":24.4,"y":462},{"s":"TYF-PY-2","x":24.65,"y":470},{"s":"TYF-PY-2","x":24.85,"y":478},{"s":"TYF-PY-2","x":25.05,"y":468},{"s":"TYF-PY-2","x":25.4,"y":462},{"s":"TYF-PY-2","x":25.7,"y":463},{"s":"TYF-PY-2","x":25.9,"y":474},{"s":"TYF-PY-2","x":26.1,"y":462},{"s":"TYF-PY-2","x":26.4,"y":463},{"s":"TYF-PY-2","x":26.62,"y":474},{"s":"TYF-PY-2","x":26.8,"y":462},{"s":"TYF-PY-2","x":27.3,"y":460},{"s":"TYF-PY-2","x":28.2,"y":462},{"s":"TYF-PY-2","x":28.5,"y":483},{"s":"TYF-PY-2","x":28.8,"y":462},{"s":"TYF-PY-2","x":29.5,"y":460},{"s":"TYF-PY-2","x":31,"y":460},{"s":"TYF-PY-2","x":32.5,"y":461},{"s":"TYF-PY-2","x":32.8,"y":470},{"s":"TYF-PY-2","x":33.0,"y":547},{"s":"TYF-PY-2","x":33.2,"y":487},{"s":"TYF-PY-2","x":33.4,"y":468},{"s":"TYF-PY-2","x":33.7,"y":462},{"s":"TYF-PY-2","x":34.5,"y":460},{"s":"TYF-PY-2","x":34.9,"y":463},{"s":"TYF-PY-2","x":35.2,"y":460},{"s":"TYF-PY-2","x":35.8,"y":462},{"s":"TYF-PY-2","x":36.1,"y":460},{"s":"TYF-PY-2","x":36.8,"y":462},{"s":"TYF-PY-2","x":37.05,"y":514},{"s":"TYF-PY-2","x":37.3,"y":464},{"s":"TYF-PY-2","x":37.6,"y":461},{"s":"TYF-PY-2","x":38.0,"y":462},{"s":"TYF-PY-2","x":38.4,"y":462},{"s":"TYF-PY-2","x":38.6,"y":460},{"s":"TYF-PY-2","x":38.8,"y":471},{"s":"TYF-PY-2","x":39.0,"y":460},{"s":"TYF-PY-2","x":39.5,"y":460},{"s":"TYF-PY-2","x":40.4,"y":463},{"s":"TYF-PY-2","x":40.7,"y":495},{"s":"TYF-PY-2","x":41.0,"y":462},{"s":"TYF-PY-2","x":41.5,"y":460},{"s":"TYF-PY-2","x":43,"y":460},{"s":"TYF-PY-2","x":44.5,"y":460},{"s":"TYF-PY-2","x":45.7,"y":461},{"s":"TYF-PY-2","x":46.5,"y":460},{"s":"TYF-PY-2","x":47.1,"y":464},{"s":"TYF-PY-2","x":47.35,"y":493},{"s":"TYF-PY-2","x":47.6,"y":464},{"s":"TYF-PY-2","x":48,"y":460},{"s":"TYF-PY-2","x":49,"y":460},{"s":"TYF-PY-2","x":50.1,"y":462},{"s":"TYF-PY-2","x":50.4,"y":460},{"s":"TYF-PY-2","x":51.6,"y":463},{"s":"TYF-PY-2","x":51.9,"y":475},{"s":"TYF-PY-2","x":52.2,"y":462},{"s":"TYF-PY-2","x":53,"y":460},{"s":"TYF-PY-2","x":53.2,"y":462},{"s":"TYF-PY-2","x":53.5,"y":460},{"s":"TYF-PY-2","x":54.0,"y":465},{"s":"TYF-PY-2","x":54.3,"y":460},{"s":"TYF-PY-2","x":54.8,"y":465},{"s":"TYF-PY-2","x":55.1,"y":460},{"s":"TYF-PY-2","x":55.8,"y":464},{"s":"TYF-PY-2","x":56.1,"y":520},{"s":"TYF-PY-2","x":56.4,"y":464},{"s":"TYF-PY-2","x":57.0,"y":460},{"s":"TYF-PY-2","x":57.65,"y":466},{"s":"TYF-PY-2","x":57.9,"y":460},{"s":"TYF-PY-2","x":58.7,"y":462},{"s":"TYF-PY-2","x":58.95,"y":467},{"s":"TYF-PY-2","x":59.2,"y":461},{"s":"TYF-PY-2","x":60.5,"y":460},{"s":"TYF-PY-2","x":61.3,"y":461},{"s":"TYF-PY-2","x":61.6,"y":472},{"s":"TYF-PY-2","x":61.9,"y":462},{"s":"TYF-PY-2","x":62.2,"y":461},{"s":"TYF-PY-2","x":63.0,"y":460},{"s":"TYF-PY-2","x":63.8,"y":462},{"s":"TYF-PY-2","x":64.05,"y":475},{"s":"TYF-PY-2","x":64.3,"y":462},{"s":"TYF-PY-2","x":65.1,"y":463},{"s":"TYF-PY-2","x":65.4,"y":460},{"s":"TYF-PY-2","x":66.5,"y":460},{"s":"TYF-PY-2","x":68.5,"y":462},{"s":"TYF-PY-2","x":70,"y":460}
],
"arrows": [
{"x1":34.32,"y1":507,"x2":33.34,"y2":484,"a":28},
{"x1":34.89,"y1":432,"x2":33.34,"y2":410,"a":41},
{"x1":29.2,"y1":182,"x2":28.8,"y2":160,"a":13},
{"x1":37.24,"y1":192,"x2":37.24,"y2":165,"a":0},
{"x1":47.63,"y1":185,"x2":47.63,"y2":160,"a":0},
{"x1":57.34,"y1":189,"x2":56.53,"y2":169,"a":27}
],
"labels": [
{"x":26.77,"y":744,"t":"Q"},{"x":12.42,"y":592,"t":"Kln"},{"x":24.66,"y":559,"t":"Kln"},
{"x":20.77,"y":485,"t":"Q"},{"x":25.8,"y":485,"t":"M"},{"x":28.64,"y":502,"t":"Py"},{"x":33.1,"y":550,"t":"Py"},{"x":34.8,"y":517,"t":"M"},{"x":37.15,"y":517,"t":"Py"},{"x":38.93,"y":482,"t":"M"},{"x":40.96,"y":502,"t":"Py"},{"x":47.53,"y":502,"t":"Py"},{"x":51.91,"y":484,"t":"M"},{"x":56.29,"y":529,"t":"Py"},{"x":57.75,"y":477,"t":"M"},{"x":64.9,"y":476,"t":"TYF-PY-2"},
{"x":20.77,"y":410,"t":"Q"},{"x":25.8,"y":410,"t":"M"},{"x":28.64,"y":421,"t":"Py"},{"x":34.96,"y":434,"t":"M"},{"x":38.93,"y":405,"t":"M"},{"x":41.04,"y":427,"t":"Py"},{"x":47.61,"y":427,"t":"Py"},{"x":52.0,"y":412,"t":"M"},{"x":56.21,"y":449,"t":"Py"},{"x":57.67,"y":401,"t":"M"},{"x":64.8,"y":401,"t":"TYF-PY-1"},
{"x":8.6,"y":332,"t":"Ilt"},{"x":27.91,"y":332,"t":"F"},{"x":30.02,"y":325,"t":"F"},{"x":36.58,"y":359,"t":"Q"},{"x":39.58,"y":355,"t":"Q"},{"x":45.67,"y":340,"t":"Kln"},{"x":50.13,"y":367,"t":"Q"},{"x":64.8,"y":333,"t":"AJL-4P-1"},
{"x":36.51,"y":280,"t":"Kln"},{"x":45.59,"y":259,"t":"Kln"},{"x":64.9,"y":255,"t":"ATB-9P-1"},
{"x":8.6,"y":177,"t":"Ilt"},{"x":21.02,"y":225,"t":"Q"},{"x":27.75,"y":177,"t":"F"},{"x":29.86,"y":194,"t":"Py"},{"x":33.35,"y":177,"t":"Py"},{"x":37.48,"y":202,"t":"Py"},{"x":47.78,"y":197,"t":"Py"},{"x":50.37,"y":192,"t":"Q"},{"x":57.59,"y":197,"t":"Py"},{"x":64.97,"y":177,"t":"ATB-9B-2"},
{"x":8.6,"y":102,"t":"Ilt"},{"x":21.02,"y":152,"t":"Q"},{"x":32.7,"y":95,"t":"Ma"},{"x":36.43,"y":122,"t":"Kln"},{"x":45.59,"y":110,"t":"Kln"},{"x":50.37,"y":127,"t":"Q"},{"x":64.97,"y":107,"t":"ATB-4B-5"},
{"x":32.7,"y":22,"t":"Ma"},{"x":36.59,"y":57,"t":"Kln"},{"x":45.59,"y":32,"t":"Kln"},{"x":50.3,"y":34,"t":"Q"},{"x":64.97,"y":29,"t":"ATB-4B-1"}
],
"legend": [
{"x":40.4,"y":736,"t":"Ilt - Illite"},{"x":40.4,"y":703,"t":"Q - Quartz"},{"x":40.4,"y":670,"t":"F - Feldspar"},
{"x":54.43,"y":736,"t":"Kln - Kaolinite"},{"x":54.43,"y":703,"t":"Ma - Magnesite"},{"x":54.43,"y":670,"t":"M - Marcasite"},{"x":54.43,"y":637,"t":"Py - Pyrite"}
]
},
"layer": [
{"data": {"name": "xrd"},
 "mark": {"type": "line", "strokeWidth": 1.5, "clip": true},
 "encoding": {
  "x": {"field": "x", "type": "quantitative", "scale": {"domain": [2.5, 70], "nice": false, "zero": false},
   "axis": {"title": "°2θ", "values": [5,10,15,20,25,30,35,40,45,50,55,60,65,70],
    "labelExpr": "datum.value % 10 === 0 ? datum.label : ''",
    "tickSize": {"condition": {"test": "datum.value % 10 === 0", "value": 15}, "value": 8},
    "tickWidth": 1.5, "tickColor": "#000", "domainColor": "#000", "domainWidth": 1.5,
    "labelFont": "'Liberation Serif', 'Times New Roman', serif", "labelFontSize": 24, "labelColor": "#000", "labelPadding": 3, "labelFlush": false, "labelOverlap": false,
    "grid": false, "titleFont": "'Liberation Serif', 'Times New Roman', serif", "titleFontSize": 26, "titleFontWeight": "normal", "titleColor": "#000", "titlePadding": 0}},
  "y": {"field": "y", "type": "quantitative", "scale": {"domain": [0, 762], "nice": false, "zero": false},
   "axis": {"title": "Intensity", "labels": false, "ticks": false, "domain": false, "grid": false,
    "titleFont": "'Liberation Serif', 'Times New Roman', serif", "titleFontSize": 28, "titleFontWeight": "normal", "titleColor": "#000", "titlePadding": 8}},
  "color": {"field": "s", "type": "nominal",
   "scale": {"domain": ["ATB-4B-1","ATB-4B-5","ATB-9B-2","ATB-9P-1","AJL-4P-1","TYF-PY-1","TYF-PY-2"],
             "range": ["#4d4d4d","#f2353b","#1d5ee8","#2aa35c","#b070e6","#d39c14","#24c9c9"]},
   "legend": null}
 }},
{"data": {"name": "arrows"},
 "mark": {"type": "rule", "strokeWidth": 1.6, "color": "#000"},
 "encoding": {"x": {"field": "x1", "type": "quantitative"}, "y": {"field": "y1", "type": "quantitative"}, "x2": {"field": "x2"}, "y2": {"field": "y2"}}},
{"data": {"name": "arrows"},
 "mark": {"type": "point", "shape": "triangle-down", "filled": true, "color": "#000", "size": 120, "opacity": 1},
 "encoding": {"x": {"field": "x2", "type": "quantitative"}, "y": {"field": "y2", "type": "quantitative"}, "angle": {"field": "a", "type": "quantitative", "scale": null}}},
{"data": {"name": "labels"},
 "mark": {"type": "text", "font": "'Liberation Serif', 'Times New Roman', serif", "fontSize": 27, "align": "center", "baseline": "middle", "color": "#000"},
 "encoding": {"x": {"field": "x", "type": "quantitative"}, "y": {"field": "y", "type": "quantitative"}, "text": {"field": "t", "type": "nominal"}}},
{"data": {"name": "legend"},
 "mark": {"type": "text", "font": "'Liberation Serif', 'Times New Roman', serif", "fontSize": 26, "align": "left", "baseline": "middle", "color": "#000"},
 "encoding": {"x": {"field": "x", "type": "quantitative"}, "y": {"field": "y", "type": "quantitative"}, "text": {"field": "t", "type": "nominal"}}}
]
}
